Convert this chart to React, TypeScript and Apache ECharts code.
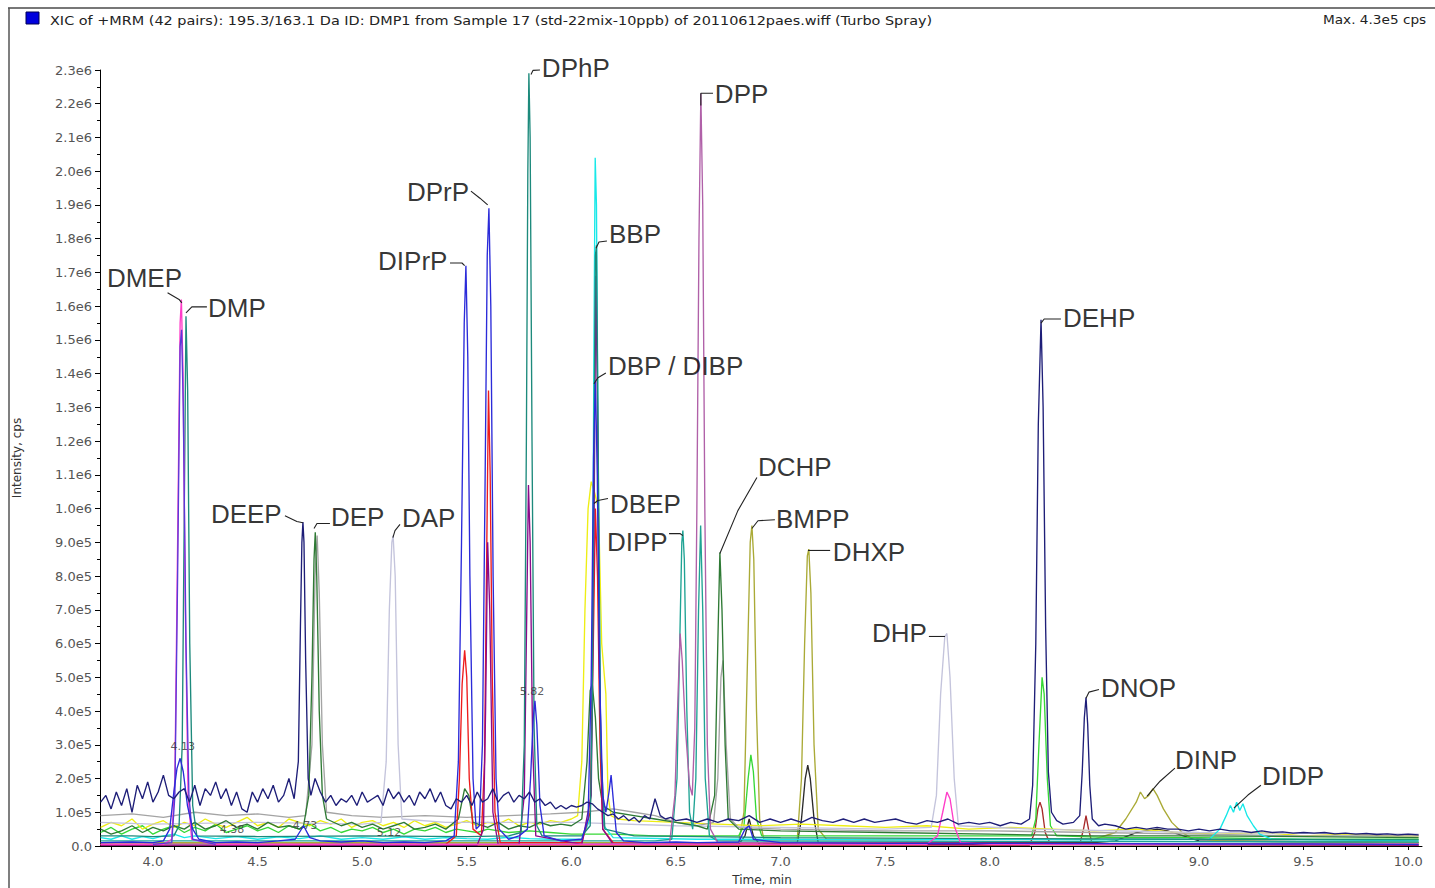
import React, { useEffect, useRef } from "react";
import * as echarts from "echarts";

// intensities in units of 1e5 cps, time in minutes
const NAVY = [
  [3.75,1.3],[3.775,1.5],[3.8,1.1],[3.825,1.6],[3.85,1.2],[3.875,1.7],[3.9,1.0],[3.925,1.8],[3.95,1.4],[3.975,1.9],
  [4.0,1.3],[4.025,1.6],[4.05,2.1],[4.075,1.5],[4.1,1.4],[4.125,1.6],[4.15,1.7],[4.175,1.3],[4.2,1.8],[4.225,1.2],
  [4.25,1.7],[4.275,1.5],[4.3,1.9],[4.325,1.4],[4.35,1.7],[4.375,1.2],[4.4,1.6],[4.425,1.1],[4.45,1.0],[4.475,1.6],
  [4.5,1.3],[4.525,1.7],[4.55,1.4],[4.575,1.8],[4.6,1.3],[4.625,1.5],[4.65,2.0],[4.675,1.4],[4.695,2.5],[4.705,6.5],
  [4.712,9.0],[4.717,9.6],[4.722,9.0],[4.73,5.5],[4.742,2.0],[4.755,1.5],[4.775,2.0],[4.8,1.6],[4.825,1.3],[4.85,1.5],
  [4.875,1.2],[4.9,1.4],[4.925,1.3],[4.95,1.5],[4.975,1.2],[5.0,1.6],[5.025,1.3],[5.05,1.4],[5.075,1.5],[5.1,1.2],
  [5.125,1.7],[5.15,1.4],[5.175,1.6],[5.2,1.3],[5.225,1.5],[5.25,1.2],[5.275,1.6],[5.3,1.4],[5.325,1.7],[5.35,1.3],
  [5.375,1.6],[5.4,1.2],[5.425,1.1],[5.45,1.4],[5.475,1.3],[5.5,1.5],[5.525,1.2],[5.55,1.6],[5.575,1.3],[5.6,1.4],
  [5.625,1.7],[5.65,1.3],[5.675,1.5],[5.7,1.6],[5.725,1.3],[5.75,1.5],[5.775,1.4],[5.8,1.6],[5.825,1.3],[5.85,1.4],
  [5.875,1.2],[5.9,1.3],[5.925,1.1],[5.95,1.2],[5.975,1.1],[6.0,1.2],[6.025,1.15],[6.05,1.2],[6.075,1.3],[6.1,1.25],
  [6.125,1.1],[6.15,1.0],[6.175,0.9],[6.2,0.95],[6.225,0.8],[6.25,0.9],[6.275,0.75],[6.3,0.85],[6.325,0.7],[6.35,0.9],
  [6.375,0.8],[6.4,1.4],[6.425,0.9],[6.45,0.8],[6.475,0.85],[6.5,0.75],[6.55,0.8],[6.6,0.7],[6.65,0.8],[6.7,0.7],
  [6.75,0.8],[6.8,0.75],[6.85,0.9],[6.9,0.7],[6.95,0.8],[7.0,0.7],[7.05,0.8],[7.1,0.7],[7.15,0.85],[7.2,0.75],
  [7.25,0.7],[7.3,0.8],[7.35,0.7],[7.4,0.8],[7.45,0.7],[7.5,0.75],[7.55,0.8],[7.6,0.7],[7.65,0.65],[7.7,0.75],
  [7.75,0.7],[7.8,0.8],[7.85,0.65],[7.9,0.7],[7.95,0.65],[8.0,0.7],[8.05,0.6],[8.1,0.7],[8.15,0.65],[8.19,0.8],
  [8.205,1.8],[8.22,6.0],[8.232,12.5],[8.245,15.6],[8.255,13.0],[8.267,6.5],[8.28,2.2],[8.295,1.0],[8.32,0.75],[8.35,0.65],
  [8.4,0.7],[8.43,0.9],[8.442,2.2],[8.452,3.8],[8.46,4.4],[8.468,3.6],[8.478,1.8],[8.49,0.8],[8.52,0.6],[8.55,0.65],
  [8.6,0.6],[8.65,0.5],[8.7,0.55],[8.75,0.5],[8.8,0.55],[8.85,0.5],[8.9,0.5],[8.95,0.45],[9.0,0.5],[9.05,0.45],
  [9.1,0.5],[9.15,0.45],[9.2,0.45],[9.25,0.4],[9.3,0.45],[9.35,0.4],[9.4,0.42],[9.45,0.38],[9.5,0.4],[9.55,0.38],
  [9.6,0.4],[9.65,0.36],[9.7,0.38],[9.75,0.35],[9.8,0.37],[9.85,0.34],[9.9,0.36],[9.95,0.33],[10.0,0.35],[10.05,0.33],
];

const BLUE = [
  [3.75,0.1],[3.9,0.12],[4.0,0.1],[4.05,0.15],[4.08,0.5],[4.1,1.6],[4.115,2.3],[4.13,2.6],[4.145,2.2],[4.165,1.2],
  [4.19,0.5],[4.22,0.2],[4.3,0.1],[4.4,0.12],[4.5,0.1],[4.6,0.15],[4.68,0.2],[4.72,0.6],[4.75,0.25],[4.8,0.15],
  [4.9,0.12],[5.0,0.15],[5.1,0.1],[5.2,0.12],[5.3,0.1],[5.4,0.15],[5.44,0.3],[5.46,2.5],[5.475,9.0],[5.488,15.5],
  [5.496,17.2],[5.505,14.5],[5.515,8.0],[5.53,2.0],[5.545,0.5],[5.56,0.6],[5.575,3.0],[5.588,11.0],[5.598,17.5],[5.606,18.9],
  [5.615,16.0],[5.626,8.0],[5.64,2.0],[5.655,0.5],[5.7,0.2],[5.75,0.3],[5.79,0.5],[5.805,2.0],[5.818,3.8],[5.826,4.3],
  [5.835,3.6],[5.85,1.2],[5.87,0.3],[5.95,0.15],[6.05,0.2],[6.08,0.8],[6.095,5.0],[6.106,11.5],[6.115,13.8],[6.124,11.0],
  [6.135,5.0],[6.15,1.5],[6.165,1.0],[6.18,1.6],[6.19,2.1],[6.2,1.4],[6.215,0.4],[6.25,0.15],[6.35,0.1],[6.5,0.12],
  [6.6,0.1],[6.8,0.12],[6.83,0.5],[6.85,0.6],[6.87,0.2],[7.0,0.1],[7.5,0.08],[8.0,0.08],[8.5,0.07],[9.0,0.06],
  [9.5,0.06],[10.05,0.05],
];

const VIOLET = [
  [4.0,0.05],[4.09,0.1],[4.105,1.5],[4.118,8.0],[4.13,14.8],[4.137,15.3],[4.145,13.0],[4.158,6.0],[4.172,1.5],[4.19,0.2],[4.3,0.05],
];

const TEAL = [
  [3.75,0.3],[3.9,0.3],[4.0,0.28],[4.1,0.3],[4.125,0.6],[4.14,3.0],[4.15,10.0],[4.158,15.7],[4.166,13.5],[4.176,6.0],
  [4.19,1.2],[4.21,0.3],[4.5,0.28],[5.0,0.3],[5.5,0.28],[5.7,0.3],[5.76,0.4],[5.775,3.0],[5.785,12.0],[5.792,20.0],
  [5.797,22.9],[5.803,21.0],[5.812,12.0],[5.822,3.5],[5.835,0.6],[5.86,0.3],[6.05,0.3],[6.09,0.6],[6.1,4.0],[6.108,12.0],
  [6.115,17.5],[6.12,17.8],[6.128,12.0],[6.14,3.0],[6.16,0.5],[6.3,0.3],[7.0,0.25],[8.0,0.22],[9.0,0.2],[10.05,0.18],
];

const SEAGREEN = [
  [3.75,0.15],[5.0,0.15],[6.4,0.15],[6.48,0.2],[6.505,2.0],[6.518,6.0],[6.528,9.0],[6.533,9.35],[6.54,8.5],[6.552,4.0],
  [6.565,1.0],[6.58,0.5],[6.595,2.0],[6.608,7.0],[6.618,9.5],[6.628,7.0],[6.64,2.0],[6.66,0.3],[6.7,0.15],[10.05,0.12],
];

const PINK = [
  [3.75,0.05],[4.05,0.05],[4.09,0.2],[4.105,2.0],[4.118,9.0],[4.13,15.5],[4.136,16.2],[4.144,14.0],[4.155,7.0],[4.168,1.5],
  [4.185,0.2],[4.3,0.05],[7.7,0.05],[7.75,0.3],[7.775,1.0],[7.795,1.6],[7.81,1.4],[7.83,0.6],[7.86,0.1],[8.0,0.05],[10.05,0.05],
];

const DARKGREEN = [
  [3.75,0.5],[3.8,0.35],[3.85,0.45],[3.9,0.6],[3.95,0.4],[4.0,0.55],[4.05,0.45],[4.1,0.6],[4.15,0.5],[4.2,0.7],
  [4.25,0.5],[4.3,0.6],[4.35,0.75],[4.4,0.55],[4.45,0.65],[4.5,0.5],[4.55,0.7],[4.6,0.55],[4.65,0.6],[4.7,0.5],
  [4.72,0.6],[4.745,1.5],[4.76,5.0],[4.77,8.5],[4.776,9.3],[4.783,8.0],[4.795,4.0],[4.81,1.5],[4.83,0.8],[4.9,0.6],
  [4.95,0.7],[5.0,0.55],[5.05,0.65],[5.1,0.5],[5.15,0.6],[5.2,0.7],[5.25,0.5],[5.3,0.55],[5.35,0.65],[5.4,0.5],
  [5.46,0.8],[5.49,1.7],[5.51,1.5],[5.53,0.7],[5.6,0.55],[5.65,0.7],[5.7,0.5],[5.75,0.6],[5.8,0.55],[5.85,0.7],
  [5.9,0.6],[5.95,0.65],[6.0,0.6],[6.05,0.8],[6.075,2.5],[6.09,4.6],[6.1,4.8],[6.115,3.8],[6.13,2.0],[6.15,1.2],
  [6.2,1.0],[6.3,0.9],[6.4,0.8],[6.5,0.7],[6.6,0.6],[6.65,0.5],[6.685,1.5],[6.7,6.0],[6.71,8.7],[6.72,7.0],
  [6.735,3.0],[6.75,0.8],[6.8,0.5],[7.0,0.45],[7.5,0.4],[8.0,0.35],[8.5,0.3],[9.0,0.3],[9.5,0.28],[10.05,0.25],
];

const GRAY = [
  [3.75,0.9],[3.9,0.95],[4.05,0.85],[4.2,1.0],[4.35,0.9],[4.5,0.95],[4.65,0.85],[4.73,0.9],[4.76,3.0],[4.775,8.0],
  [4.785,9.2],[4.795,7.5],[4.81,3.0],[4.83,1.0],[4.95,0.9],[5.1,0.85],[5.3,0.9],[5.5,0.85],[5.7,0.9],[5.9,0.95],
  [6.05,1.0],[6.2,1.1],[6.3,1.0],[6.4,0.9],[6.5,0.7],[6.6,0.6],[6.68,0.7],[6.7,2.0],[6.715,5.0],[6.725,5.5],
  [6.74,3.0],[6.76,0.8],[6.8,0.55],[7.0,0.5],[7.5,0.45],[8.0,0.45],[8.5,0.4],[9.0,0.35],[9.5,0.3],[10.05,0.3],
];

const LAVENDER = [
  [3.75,0.7],[4.0,0.65],[4.5,0.7],[5.0,0.65],[5.09,0.7],[5.115,2.5],[5.13,7.0],[5.142,9.0],[5.148,9.2],[5.158,8.0],
  [5.172,3.0],[5.19,0.8],[5.4,0.7],[6.0,0.7],[6.5,0.6],[7.0,0.55],[7.5,0.5],[7.72,0.55],[7.745,1.5],[7.765,4.5],
  [7.785,6.2],[7.795,6.3],[7.81,5.0],[7.83,2.0],[7.85,0.6],[8.2,0.5],[9.0,0.4],[10.05,0.35],
];

const RED = [
  [3.75,0.05],[5.4,0.05],[5.45,0.3],[5.465,2.0],[5.478,4.8],[5.49,5.8],[5.5,5.0],[5.512,2.0],[5.53,0.5],[5.57,0.3],
  [5.585,2.5],[5.596,9.0],[5.604,13.5],[5.612,11.0],[5.622,5.0],[5.635,1.0],[5.66,0.1],[6.05,0.1],[6.09,1.0],[6.105,6.0],
  [6.115,10.0],[6.125,8.0],[6.137,3.0],[6.15,0.5],[6.2,0.1],[10.05,0.05],
];

const PURPLE = [
  [3.75,0.03],[5.55,0.03],[5.58,0.5],[5.59,4.0],[5.6,9.0],[5.61,7.0],[5.625,1.0],[5.65,0.05],[5.75,0.05],[5.775,1.5],
  [5.787,7.0],[5.795,10.7],[5.803,9.0],[5.815,3.0],[5.83,0.3],[6.05,0.05],[6.095,1.5],[6.108,9.0],[6.117,16.9],[6.125,13.0],
  [6.135,5.0],[6.15,0.5],[6.2,0.05],[10.05,0.03],
];

const MAUVE = [
  [3.75,0.05],[6.0,0.05],[6.47,0.1],[6.495,1.5],[6.51,4.5],[6.52,6.3],[6.53,5.5],[6.545,3.5],[6.565,1.8],[6.578,1.5],
  [6.59,3.5],[6.6,10.0],[6.61,18.0],[6.619,22.3],[6.628,19.0],[6.638,10.0],[6.65,3.0],[6.665,0.5],[6.7,0.1],[10.05,0.05],
];

const CYAN = [
  [3.75,0.25],[3.8,0.2],[3.85,0.3],[3.9,0.2],[3.95,0.28],[4.0,0.22],[4.05,0.3],[4.1,0.35],[4.15,0.25],[4.2,0.3],
  [4.3,0.22],[4.4,0.28],[4.5,0.2],[4.6,0.27],[4.7,0.22],[4.8,0.3],[4.9,0.2],[5.0,0.25],[5.1,0.2],[5.2,0.27],
  [5.3,0.2],[5.4,0.25],[5.5,0.22],[5.6,0.2],[5.7,0.26],[5.8,0.22],[5.9,0.2],[6.05,0.2],[6.09,0.8],[6.1,5.0],
  [6.108,15.0],[6.114,20.4],[6.12,19.0],[6.13,10.0],[6.14,3.0],[6.155,0.6],[6.2,0.25],[6.6,0.2],[7.0,0.2],[7.5,0.18],
  [8.0,0.2],[8.5,0.18],[9.05,0.2],[9.1,0.5],[9.13,0.9],[9.15,1.2],[9.165,1.0],[9.18,1.3],[9.195,1.05],[9.21,1.25],
  [9.23,0.9],[9.26,0.6],[9.29,0.35],[9.35,0.2],[10.05,0.15],
];

const YELLOW = [
  [3.75,0.55],[3.8,0.7],[3.85,0.6],[3.9,0.8],[3.95,0.5],[4.0,0.65],[4.05,0.75],[4.1,0.55],[4.15,0.7],[4.2,0.6],
  [4.25,0.8],[4.3,0.65],[4.35,0.55],[4.4,0.7],[4.45,0.85],[4.5,0.6],[4.55,0.7],[4.6,0.55],[4.65,0.8],[4.7,0.7],
  [4.75,0.6],[4.8,0.75],[4.85,0.65],[4.9,0.8],[4.95,0.55],[5.0,0.7],[5.05,0.75],[5.1,0.6],[5.15,0.7],[5.2,0.55],
  [5.25,0.75],[5.3,0.6],[5.35,0.7],[5.4,0.55],[5.45,0.65],[5.5,0.75],[5.55,0.6],[5.6,0.7],[5.65,0.65],[5.7,0.8],
  [5.75,0.6],[5.8,0.7],[5.85,0.65],[5.9,0.75],[5.95,0.7],[6.0,0.8],[6.03,0.9],[6.05,2.5],[6.065,7.0],[6.08,10.0],
  [6.095,10.8],[6.11,10.5],[6.13,10.0],[6.145,6.0],[6.165,4.5],[6.175,1.5],[6.19,0.9],[6.22,0.8],[6.3,0.75],[6.5,0.7],
  [6.7,0.65],[6.9,0.6],[7.1,0.65],[7.3,0.6],[7.5,0.55],[7.7,0.6],[7.9,0.5],[8.1,0.55],[8.3,0.5],[8.5,0.45],
  [8.7,0.5],[8.9,0.4],[9.1,0.35],[9.3,0.4],[9.5,0.3],[9.7,0.35],[9.9,0.3],[10.05,0.3],
];

const OLIVE = [
  [3.75,0.1],[5.0,0.1],[6.0,0.1],[6.8,0.1],[6.825,1.0],[6.84,5.0],[6.855,9.0],[6.863,9.5],[6.872,8.5],[6.885,4.0],
  [6.9,0.8],[6.92,0.2],[7.08,0.2],[7.1,2.0],[7.115,6.0],[7.128,8.6],[7.135,8.8],[7.145,7.5],[7.16,3.0],[7.18,0.5],
  [7.22,0.2],[8.5,0.2],[8.6,0.4],[8.65,0.8],[8.7,1.3],[8.72,1.6],[8.74,1.4],[8.76,1.5],[8.78,1.7],[8.8,1.5],
  [8.83,1.1],[8.87,0.7],[8.92,0.4],[8.96,0.25],[9.1,0.15],[10.05,0.1],
];

const LIGHTGREEN = [
  [3.75,0.4],[3.8,0.55],[3.85,0.35],[3.9,0.5],[3.95,0.6],[4.0,0.35],[4.05,0.5],[4.1,0.6],[4.15,0.4],[4.2,0.55],
  [4.25,0.45],[4.3,0.65],[4.35,0.4],[4.4,0.5],[4.45,0.6],[4.5,0.45],[4.55,0.55],[4.6,0.4],[4.65,0.6],[4.7,0.5],
  [4.75,0.65],[4.8,0.45],[4.85,0.55],[4.9,0.4],[4.95,0.5],[5.0,0.45],[5.05,0.55],[5.1,0.4],[5.15,0.5],[5.2,0.35],
  [5.25,0.5],[5.3,0.45],[5.35,0.55],[5.4,0.4],[5.45,0.5],[5.5,0.45],[5.55,0.4],[5.6,0.5],[5.7,0.4],[5.8,0.45],
  [5.9,0.4],[6.0,0.35],[6.2,0.35],[6.4,0.3],[6.6,0.3],[6.8,0.3],[6.825,0.6],[6.845,2.0],[6.858,2.7],[6.87,2.2],
  [6.885,0.8],[6.91,0.3],[7.2,0.3],[7.6,0.3],[8.0,0.3],[8.2,0.3],[8.22,0.8],[8.235,3.0],[8.25,5.0],[8.26,4.5],
  [8.275,2.0],[8.29,0.6],[8.32,0.3],[8.6,0.25],[9.0,0.25],[9.5,0.2],[10.05,0.2],
];

const BLACK = [
  [3.75,0.05],[6.0,0.05],[6.8,0.05],[6.83,0.3],[6.85,0.8],[6.87,0.3],[6.9,0.05],[7.08,0.1],[7.1,0.8],[7.118,2.0],
  [7.13,2.4],[7.142,2.0],[7.16,0.8],[7.18,0.1],[8.5,0.1],[8.6,0.15],[8.7,0.4],[8.8,0.5],[8.85,0.45],[8.9,0.35],
  [9.0,0.15],[10.05,0.1],
];

const BROWN = [
  [3.75,0.03],[8.19,0.03],[8.215,0.4],[8.23,1.1],[8.24,1.3],[8.25,1.1],[8.265,0.4],[8.29,0.05],[8.43,0.05],[8.448,0.5],
  [8.46,0.9],[8.472,0.5],[8.49,0.05],[10.05,0.03],
];

const ORANGE = [[3.75,0.04],[5.0,0.05],[6.0,0.05],[8.0,0.04],[10.05,0.03]];

// compound labels: name, text anchor (left-middle), leader polyline
const LABEL_NAMES = ["DMEP","DMP","DEEP","DEP","DAP","DIPrP","DPrP","DPhP","BBP","DBP / DIBP","DPP","DBEP","DIPP","DCHP","BMPP","DHXP","DHP","DEHP","DNOP","DINP","DIDP"];
const LABEL_POS = [
  [3.780,16.83],[4.263,15.95],[4.277,9.85],[4.851,9.76],[5.190,9.73],[5.076,17.34],[5.214,19.38],[5.859,23.05],
  [6.180,18.14],[6.175,14.23],[6.686,22.28],[6.185,10.15],[6.170,9.02],[6.892,11.24],[6.978,9.70],[7.250,8.70],
  [7.437,6.30],[8.350,15.65],[8.532,4.67],[8.885,2.54],[9.301,2.07],
];
const LEADERS = [
  [[4.07,16.4],[4.125,16.2],[4.138,16.1]],
  [[4.158,15.8],[4.186,15.98],[4.258,15.98]],
  [[4.631,9.79],[4.688,9.62],[4.717,9.58]],
  [[4.770,9.41],[4.784,9.56],[4.846,9.56]],
  [[5.147,9.14],[5.157,9.35],[5.181,9.53]],
  [[5.42,17.28],[5.477,17.28],[5.49,17.2]],
  [[5.520,19.41],[5.563,19.2],[5.60,19.0]],
  [[5.807,22.87],[5.817,22.99],[5.85,23.0]],
  [[6.118,17.72],[6.132,17.9],[6.17,17.93]],
  [[6.108,13.7],[6.127,13.88],[6.165,14.02]],
  [[6.619,21.95],[6.619,22.31],[6.677,22.31]],
  [[6.108,10.15],[6.127,10.24],[6.175,10.3]],
  [[6.467,9.26],[6.519,9.26],[6.533,9.2]],
  [[6.71,8.67],[6.796,9.94],[6.887,10.92]],
  [[6.863,9.41],[6.892,9.64],[6.973,9.67]],
  [[7.131,8.76],[7.237,8.76]],
  [[7.709,6.21],[7.786,6.21]],
  [[8.245,15.5],[8.26,15.62],[8.34,15.62]],
  [[8.46,4.38],[8.474,4.56],[8.522,4.64]],
  [[8.752,1.48],[8.814,1.92],[8.885,2.31]],
  [[9.167,1.12],[9.234,1.51],[9.296,1.80]],
];

const RT_TEXTS = ["4.13","4.38","4.73","5.12","5.82"];
const RT_POS = [[4.143,2.96],[4.378,0.50],[4.727,0.62],[5.128,0.41],[5.812,4.59]];

const X_TICKS = [3.8,3.9,4.0,4.1,4.2,4.3,4.4,4.5,4.6,4.7,4.8,4.9,5.0,5.1,5.2,5.3,5.4,5.5,5.6,5.7,5.8,5.9,6.0,6.1,6.2,6.3,6.4,6.5,6.6,6.7,6.8,6.9,7.0,7.1,7.2,7.3,7.4,7.5,7.6,7.7,7.8,7.9,8.0,8.1,8.2,8.3,8.4,8.5,8.6,8.7,8.8,8.9,9.0,9.1,9.2,9.3,9.4,9.5,9.6,9.7,9.8,9.9,10.0];
const X_LABELS = [4.0,4.5,5.0,5.5,6.0,6.5,7.0,7.5,8.0,8.5,9.0,9.5,10.0];

const TITLE = "XIC of +MRM (42 pairs): 195.3/163.1 Da ID: DMP1 from Sample 17 (std-22mix-10ppb) of 20110612paes.wiff (Turbo Spray)";
const MAX_TEXT = "Max. 4.3e5 cps";

const FONT = "'Liberation Sans', Arial, sans-serif";
const SMALL_FONT = "'DejaVu Sans', Verdana, sans-serif";

function traceSeries(data: number[][], color: string, width = 1.35) {
  return {
    type: "line",
    data,
    symbol: "none",
    showSymbol: false,
    silent: true,
    lineStyle: { color, width },
    itemStyle: { color },
    z: 2,
  };
}

export default function App() {
  const ref = useRef<HTMLDivElement>(null);
  useEffect(() => {
    const chart = echarts.init(ref.current!, null, { renderer: "svg" });
    const traces: [number[][], string][] = [
      [ORANGE, "#e07b20"],
      [BROWN, "#a82a2a"],
      [BLACK, "#2a2a2a"],
      [OLIVE, "#aaaa36"],
      [LIGHTGREEN, "#36d836"],
      [YELLOW, "#eeee14"],
      [GRAY, "#a4a4a4"],
      [LAVENDER, "#c4c4dc"],
      [DARKGREEN, "#2f7a35"],
      [CYAN, "#18e8e8"],
      [SEAGREEN, "#1fa394"],
      [RED, "#ee1c1c"],
      [PURPLE, "#8a0a8a"],
      [MAUVE, "#b060a8"],
      [TEAL, "#1d8a7c"],
      [PINK, "#ff3cc8"],
      [VIOLET, "#5a3ad8"],
      [BLUE, "#2b2bd9"],
      [NAVY, "#1e1e78"],
    ];
    const series: any[] = traces.map(([d, c]) => traceSeries(d, c));
    LEADERS.forEach((pts) => {
      series.push({
        type: "line",
        data: pts,
        symbol: "none",
        silent: true,
        clip: false,
        lineStyle: { color: "#222", width: 1.1 },
        z: 5,
      });
    });
    series.push({
      type: "scatter",
      symbolSize: 0,
      clip: false,
      silent: true,
      z: 6,
      data: LABEL_NAMES.map((n, i) => ({ name: n, value: LABEL_POS[i] })),
      label: {
        show: true,
        position: "right",
        distance: 0,
        formatter: "{b}",
        fontSize: 26,
        fontFamily: FONT,
        color: "#000",
      },
    });
    series.push({
      type: "scatter",
      symbolSize: 0,
      clip: false,
      silent: true,
      z: 6,
      data: RT_TEXTS.map((n, i) => ({ name: n, value: RT_POS[i] })),
      label: {
        show: true,
        position: "inside",
        formatter: "{b}",
        fontSize: 11,
        fontFamily: SMALL_FONT,
        color: "#333",
      },
    });

    chart.setOption({
      animation: false,
      backgroundColor: "#fff",
      grid: { left: 100, right: 13, top: 70, bottom: 42 },
      xAxis: {
        type: "value",
        min: 3.747,
        max: 10.066,
        axisLine: { show: true, lineStyle: { color: "#000", width: 1 } },
        axisTick: { show: true, customValues: X_TICKS, length: 4, lineStyle: { color: "#000" } },
        axisLabel: {
          customValues: X_LABELS,
          formatter: (v: number) => v.toFixed(1),
          fontSize: 13,
          fontFamily: SMALL_FONT,
          color: "#555",
          margin: 9,
        },
        splitLine: { show: false },
      },
      yAxis: {
        type: "value",
        min: 0,
        max: 23,
        interval: 1,
        axisLine: { show: true, lineStyle: { color: "#000", width: 1 } },
        axisTick: { show: true, length: 5, lineStyle: { color: "#000" } },
        minorTick: { show: true, splitNumber: 2, length: 3, lineStyle: { color: "#000" } },
        axisLabel: {
          formatter: (v: number) =>
            v === 0 ? "0.0" : v < 10 ? v.toFixed(1) + "e5" : (v / 10).toFixed(1) + "e6",
          fontSize: 13,
          fontFamily: SMALL_FONT,
          color: "#555",
          margin: 8,
        },
        splitLine: { show: false },
      },
      graphic: [
        { type: "line", shape: { x1: 8, y1: 8, x2: 1435, y2: 8 }, style: { stroke: "#777", lineWidth: 2 } },
        { type: "line", shape: { x1: 9, y1: 8, x2: 9, y2: 888 }, style: { stroke: "#555", lineWidth: 1.5 } },
        { type: "rect", shape: { x: 26, y: 12, width: 13, height: 12 }, style: { fill: "#0000dd", stroke: "#000055", lineWidth: 1 } },
        { type: "text", x: 50, y: 20, scaleX: 1.11, style: { text: TITLE, font: `13px ${SMALL_FONT}`, fill: "#222", textVerticalAlign: "middle" } },
        { type: "text", x: 1323, y: 20, scaleX: 1.05, style: { text: MAX_TEXT, font: `13px ${SMALL_FONT}`, fill: "#222", textVerticalAlign: "middle" } },
        { type: "text", x: 17, y: 458, rotation: Math.PI / 2, style: { text: "Intensity, cps", font: `12px ${SMALL_FONT}`, fill: "#333", textAlign: "center", textVerticalAlign: "middle" } },
        { type: "text", x: 762, y: 880, style: { text: "Time, min", font: `12px ${SMALL_FONT}`, fill: "#333", textAlign: "center", textVerticalAlign: "middle" } },
      ],
      series,
    });
    return () => chart.dispose();
  }, []);
  return (
    <div
      ref={ref}
      style={{ position: "fixed", left: 0, top: 0, width: 1435, height: 888, background: "#fff" }}
    />
  );
}
